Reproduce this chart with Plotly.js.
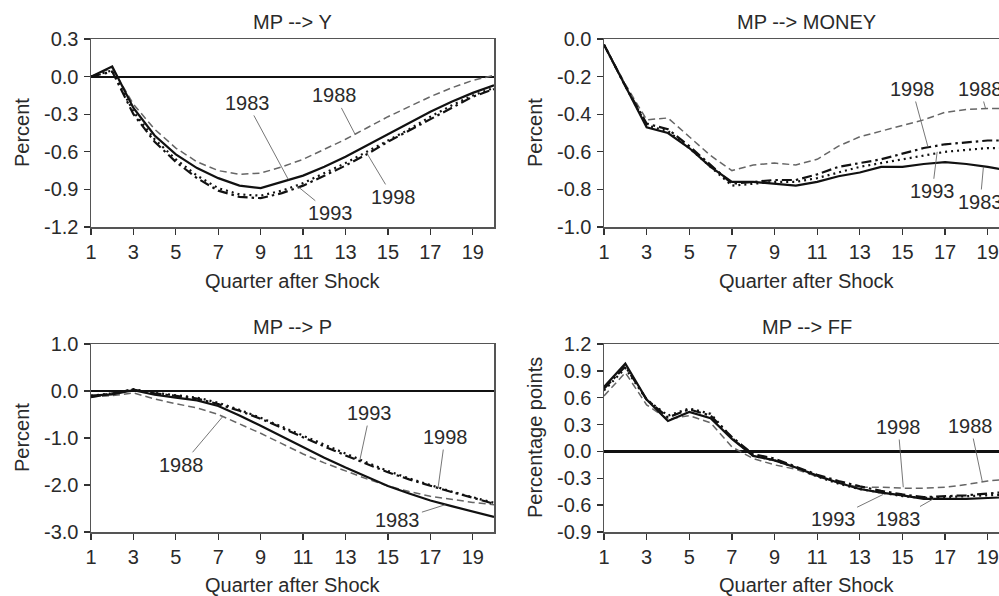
<!DOCTYPE html>
<html>
<head>
<meta charset="utf-8">
<script src="https://cdn.plot.ly/plotly-3.0.1.min.js"></script>
<style>
  html, body { margin: 0; padding: 0; background: #fff; overflow: hidden; }
  #wrap { width: 999px; height: 596px; overflow: hidden; position: relative; }
  #chart { width: 1030px; height: 596px; }
</style>
</head>
<body>
<div id="wrap"><div id="chart"></div></div>
<script>
// ---------- DATA ----------
const quarters = [1, 2, 3, 4, 5, 6, 7, 8, 9, 10, 11, 12, 13, 14, 15, 16, 17, 18, 19, 20];
const vintages = ["1983", "1988", "1993", "1998"];

// MP --> Y (percent)
const y1983 = [0, 0.08, -0.25, -0.47, -0.62, -0.73, -0.81, -0.87, -0.89, -0.84, -0.79, -0.72, -0.64, -0.55, -0.46, -0.37, -0.28, -0.20, -0.13, -0.07];
const y1988 = [0, 0.07, -0.22, -0.42, -0.57, -0.68, -0.75, -0.78, -0.77, -0.72, -0.66, -0.58, -0.50, -0.41, -0.32, -0.24, -0.16, -0.09, -0.03, 0.01];
const y1993 = [0, 0.05, -0.28, -0.50, -0.66, -0.79, -0.89, -0.94, -0.95, -0.91, -0.85, -0.77, -0.69, -0.60, -0.51, -0.42, -0.32, -0.23, -0.15, -0.09];
const y1998 = [0, 0.04, -0.30, -0.52, -0.68, -0.81, -0.91, -0.96, -0.97, -0.93, -0.87, -0.79, -0.71, -0.62, -0.52, -0.43, -0.34, -0.25, -0.16, -0.10];

// MP --> MONEY (percent)
const m1983 = [-0.03, -0.25, -0.47, -0.50, -0.58, -0.68, -0.76, -0.76, -0.77, -0.78, -0.76, -0.73, -0.71, -0.68, -0.68, -0.665, -0.655, -0.665, -0.68, -0.70];
const m1988 = [-0.03, -0.24, -0.43, -0.42, -0.52, -0.62, -0.70, -0.67, -0.66, -0.67, -0.64, -0.57, -0.52, -0.49, -0.46, -0.43, -0.39, -0.375, -0.37, -0.37];
const m1993 = [-0.03, -0.25, -0.46, -0.49, -0.58, -0.68, -0.78, -0.77, -0.76, -0.76, -0.74, -0.71, -0.68, -0.66, -0.64, -0.62, -0.60, -0.59, -0.58, -0.58];
const m1998 = [-0.03, -0.25, -0.45, -0.48, -0.57, -0.67, -0.77, -0.76, -0.75, -0.75, -0.72, -0.68, -0.66, -0.64, -0.61, -0.58, -0.56, -0.55, -0.54, -0.54];

// MP --> P (percent)
const p1983 = [-0.10, -0.07, 0.02, -0.08, -0.14, -0.20, -0.32, -0.52, -0.74, -0.97, -1.20, -1.42, -1.63, -1.83, -2.02, -2.18, -2.33, -2.45, -2.56, -2.68];
const p1988 = [-0.12, -0.10, -0.04, -0.17, -0.27, -0.36, -0.50, -0.70, -0.90, -1.12, -1.34, -1.53, -1.70, -1.87, -2.02, -2.14, -2.24, -2.31, -2.37, -2.42];
const p1993 = [-0.10, -0.05, 0.04, -0.04, -0.09, -0.14, -0.25, -0.40, -0.57, -0.76, -0.96, -1.15, -1.34, -1.52, -1.70, -1.86, -2.00, -2.14, -2.26, -2.38];
const p1998 = [-0.13, -0.05, 0.03, -0.05, -0.10, -0.16, -0.28, -0.42, -0.59, -0.79, -0.99, -1.18, -1.37, -1.55, -1.73, -1.88, -2.02, -2.15, -2.27, -2.40];

// MP --> FF (percentage points)
const f1983 = [0.72, 0.98, 0.58, 0.34, 0.44, 0.37, 0.14, -0.05, -0.10, -0.18, -0.27, -0.35, -0.42, -0.46, -0.49, -0.53, -0.53, -0.53, -0.52, -0.51];
const f1988 = [0.62, 0.88, 0.52, 0.36, 0.40, 0.32, 0.05, -0.08, -0.15, -0.20, -0.28, -0.35, -0.40, -0.40, -0.41, -0.41, -0.40, -0.37, -0.33, -0.31];
const f1993 = [0.68, 0.93, 0.58, 0.40, 0.48, 0.42, 0.15, -0.05, -0.10, -0.18, -0.28, -0.36, -0.42, -0.46, -0.50, -0.52, -0.51, -0.50, -0.49, -0.48];
const f1998 = [0.70, 0.95, 0.58, 0.38, 0.47, 0.40, 0.16, -0.03, -0.08, -0.17, -0.26, -0.33, -0.39, -0.44, -0.48, -0.51, -0.50, -0.49, -0.47, -0.45];

// Tick labels
const xTickVals = [1, 3, 5, 7, 9, 11, 13, 15, 17, 19];
const xTickText = ["1", "3", "5", "7", "9", "11", "13", "15", "17", "19"];
const yTickValsY = [0.3, 0, -0.3, -0.6, -0.9, -1.2];
const yTickTextY = ["0.3", "0.0", "-0.3", "-0.6", "-0.9", "-1.2"];
const yTickValsM = [0, -0.2, -0.4, -0.6, -0.8, -1.0];
const yTickTextM = ["0.0", "-0.2", "-0.4", "-0.6", "-0.8", "-1.0"];
const yTickValsP = [1, 0, -1, -2, -3];
const yTickTextP = ["1.0", "0.0", "-1.0", "-2.0", "-3.0"];
const yTickValsF = [1.2, 0.9, 0.6, 0.3, 0, -0.3, -0.6, -0.9];
const yTickTextF = ["1.2", "0.9", "0.6", "0.3", "0.0", "-0.3", "-0.6", "-0.9"];

// Panel titles
const panelTitles = ["MP --> Y", "MP --> MONEY", "MP --> P", "MP --> FF"];
const yTitles = ["Percent", "Percent", "Percent", "Percentage points"];
const xTitle = "Quarter after Shock";

// Label positions [text x, text y, pointer x, pointer y] per panel, per vintage
const labelsY = { "1983": [8.36, -0.21, 10.3, -0.82], "1988": [12.5, -0.15, 13.45, -0.46], "1993": [12.3, -1.09, 10.7, -0.87], "1998": [15.24, -0.96, 14.0, -0.61] };
const labelsM = { "1998": [15.46, -0.266, 16.2, -0.575], "1988": [18.65, -0.266, 18.9, -0.37], "1993": [16.4, -0.81, 16.63, -0.60], "1983": [18.65, -0.867, 18.8, -0.68] };
const labelsP = { "1993": [14.15, -0.47, 13.68, -1.46], "1998": [17.69, -0.98, 17.36, -2.07], "1988": [5.29, -1.57, 7.2, -0.55], "1983": [15.47, -2.74, 17.7, -2.42] };
const labelsF = { "1998": [14.8, 0.273, 15.04, -0.40], "1988": [18.2, 0.284, 18.75, -0.34], "1993": [11.75, -0.755, 14.1, -0.48], "1983": [14.8, -0.755, 16.45, -0.53] };

// ---------- STYLE ----------
const W = 1030, H = 596;
const FONT = "Liberation Sans, Arial, sans-serif";
const TXT = "#2a2a2a";
const styles = {
  "1983": { color: "#111", width: 2.2, dash: "solid" },
  "1988": { color: "#666", width: 1.5, dash: "7px,4px" },
  "1993": { color: "#111", width: 2.2, dash: "2px,4px" },
  "1998": { color: "#111", width: 2.2, dash: "10px,4px,2.5px,4px" }
};
const drawOrder = ["1988", "1993", "1998", "1983"];

const panels = [
  { xa: "x", ya: "y", data: { "1983": y1983, "1988": y1988, "1993": y1993, "1998": y1998 } },
  { xa: "x2", ya: "y2", data: { "1983": m1983, "1988": m1988, "1993": m1993, "1998": m1998 } },
  { xa: "x3", ya: "y3", data: { "1983": p1983, "1988": p1988, "1993": p1993, "1998": p1998 } },
  { xa: "x4", ya: "y4", data: { "1983": f1983, "1988": f1988, "1993": f1993, "1998": f1998 } }
];

const traces = [];
panels.forEach(p => {
  drawOrder.forEach(v => {
    traces.push({
      x: quarters, y: p.data[v], xaxis: p.xa, yaxis: p.ya,
      type: "scatter", mode: "lines", name: v, showlegend: false,
      line: { color: styles[v].color, width: styles[v].width, dash: styles[v].dash },
      hoverinfo: "skip"
    });
  });
});

// pixel geometry
const leftX = [91 / W, 494 / W];
const rightX = [604 / W, 1009 / W];
const topY = [(H - 227) / H, (H - 39) / H];
const botY = [(H - 532) / H, (H - 344) / H];

function xaxisCfg(domain, anchor) {
  return {
    domain: domain, anchor: anchor, range: [1, 20],
    tickmode: "array", tickvals: xTickVals, ticktext: xTickText,
    ticks: "outside", ticklen: 6, tickwidth: 1.3, tickcolor: "#333",
    showline: true, mirror: true, linecolor: "#555", linewidth: 1.5,
    showgrid: false, zeroline: false,
    tickfont: { family: FONT, size: 20, color: TXT },
    ticklabelstandoff: 0, fixedrange: true
  };
}
function yaxisCfg(domain, anchor, range, vals, text) {
  return {
    domain: domain, anchor: anchor, range: range,
    tickmode: "array", tickvals: vals, ticktext: text,
    ticks: "outside", ticklen: 6, tickwidth: 1.3, tickcolor: "#333",
    showline: true, mirror: true, linecolor: "#555", linewidth: 1.5,
    showgrid: false, zeroline: true, zerolinecolor: "#111", zerolinewidth: 2.2,
    tickfont: { family: FONT, size: 20, color: TXT },
    ticklabelstandoff: 1, fixedrange: true
  };
}

const annotations = [];
// panel titles
const titlePos = [
  [(91 + 494) / 2, 22], [(604 + 1009) / 2, 22], [(91 + 494) / 2, 327], [(604 + 1009) / 2, 327]
];
panelTitles.forEach((t, i) => {
  annotations.push({
    text: t, xref: "paper", yref: "paper",
    x: titlePos[i][0] / W, y: (H - titlePos[i][1]) / H,
    xanchor: "center", yanchor: "middle", showarrow: false,
    font: { family: FONT, size: 20, color: TXT }
  });
});
// x titles
const xTitlePos = [[(91 + 494) / 2, 281], [(604 + 1009) / 2, 281], [(91 + 494) / 2, 585], [(604 + 1009) / 2, 585]];
xTitlePos.forEach(p => {
  annotations.push({
    text: xTitle, xref: "paper", yref: "paper",
    x: p[0] / W, y: (H - p[1]) / H, xanchor: "center", yanchor: "middle",
    showarrow: false, font: { family: FONT, size: 20, color: TXT }
  });
});
// y titles
const yTitlePos = [[22, 133], [535, 133], [22, 438], [535, 438]];
yTitles.forEach((t, i) => {
  annotations.push({
    text: t, xref: "paper", yref: "paper",
    x: yTitlePos[i][0] / W, y: (H - yTitlePos[i][1]) / H,
    xanchor: "center", yanchor: "middle", textangle: -90,
    showarrow: false, font: { family: FONT, size: 20, color: TXT }
  });
});
// vintage labels with leader lines
const labelSets = [labelsY, labelsM, labelsP, labelsF];
labelSets.forEach((set, i) => {
  const xa = panels[i].xa, ya = panels[i].ya;
  Object.keys(set).forEach(v => {
    const L = set[v];
    annotations.push({
      text: v, xref: xa, yref: ya, x: L[2], y: L[3],
      axref: xa, ayref: ya, ax: L[0], ay: L[1],
      showarrow: true, arrowhead: 0, arrowwidth: 0.9, arrowcolor: "#666",
      standoff: 0, startstandoff: 0,
      font: { family: FONT, size: 20, color: TXT },
      borderpad: 1
    });
  });
});

const layout = {
  width: W, height: H,
  margin: { l: 0, r: 0, t: 0, b: 0, pad: 0 },
  paper_bgcolor: "#fff", plot_bgcolor: "#fff",
  showlegend: false,
  xaxis: xaxisCfg(leftX, "y"),
  yaxis: yaxisCfg(topY, "x", [-1.2, 0.3], yTickValsY, yTickTextY),
  xaxis2: xaxisCfg(rightX, "y2"),
  yaxis2: yaxisCfg(topY, "x2", [-1.0, 0.0], yTickValsM, yTickTextM),
  xaxis3: xaxisCfg(leftX, "y3"),
  yaxis3: yaxisCfg(botY, "x3", [-3.0, 1.0], yTickValsP, yTickTextP),
  xaxis4: xaxisCfg(rightX, "y4"),
  yaxis4: yaxisCfg(botY, "x4", [-0.9, 1.2], yTickValsF, yTickTextF),
  annotations: annotations
};

Plotly.newPlot("chart", traces, layout, { staticPlot: true, displayModeBar: false });
</script>
</body>
</html>
